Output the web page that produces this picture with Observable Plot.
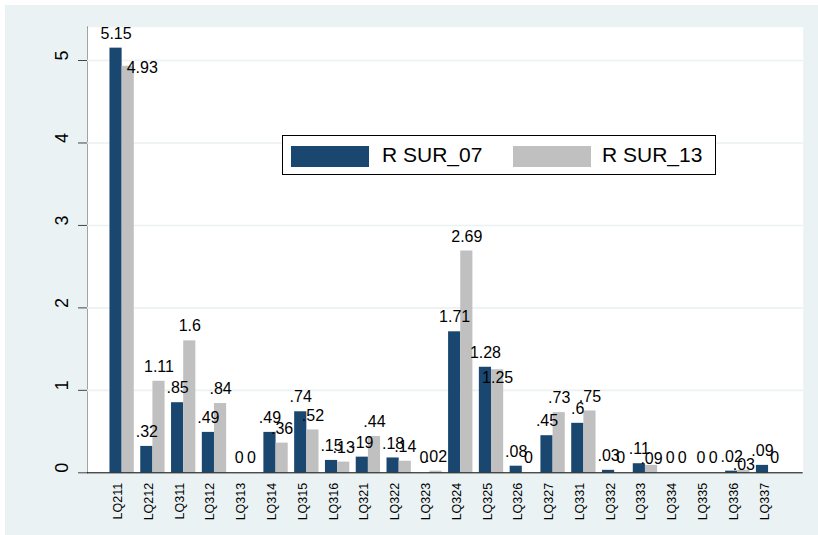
<!DOCTYPE html>
<html>
<head>
<meta charset="utf-8">
<script src="https://cdn.jsdelivr.net/npm/d3@7"></script>
<script src="https://cdn.jsdelivr.net/npm/@observablehq/plot@0.6"></script>
<style>
  html, body { margin: 0; padding: 0; background: #ffffff; }
  #wrap { position: relative; width: 818px; height: 535px; font-family: "Liberation Sans", Arial, Helvetica, sans-serif; }
  #bg { position: absolute; left: 5px; top: 5px; right: 0; bottom: 0; background: #eaf2f3; }
  #chart { position: absolute; left: 0; top: 0; }
  #legend { position: absolute; left: 282px; top: 135px; width: 432px; height: 38px; border: 1px solid #000; background: #fff; }
  .sw { position: absolute; top: 10px; width: 78px; height: 21px; }
  .lt { position: absolute; top: 7px; font-size: 21px; line-height: 24px; color: #000; white-space: nowrap; }
</style>
</head>
<body>
<div id="wrap">
  <div id="bg"></div>
  <div id="chart"></div>
  <div id="legend"></div>
</div>
<script>
const categories = ["LQ211","LQ212","LQ311","LQ312","LQ313","LQ314","LQ315","LQ316","LQ321","LQ322","LQ323","LQ324","LQ325","LQ326","LQ327","LQ331","LQ332","LQ333","LQ334","LQ335","LQ336","LQ337"];
const sur07 = [5.15, 0.32, 0.85, 0.49, 0, 0.49, 0.74, 0.15, 0.19, 0.18, 0, 1.71, 1.28, 0.08, 0.45, 0.6, 0.03, 0.11, 0, 0, 0.02, 0.09];
const sur13 = [4.93, 1.11, 1.6, 0.84, 0, 0.36, 0.52, 0.13, 0.44, 0.14, 0.02, 2.69, 1.25, 0, 0.73, 0.75, 0, 0.09, 0, 0, 0.03, 0];
const seriesNames = ["R SUR_07", "R SUR_13"];
const seriesColors = ["#1a476f", "#c0c0c0"];
const yTicks = [0, 1, 2, 3, 4, 5];

const rows = categories.map((c, i) => ({cat: c, v07: sur07[i], v13: sur13[i]}));
const fmt = v => v === 0 ? "0" : String(v).replace(/^0\./, ".");

// label placement tweaks (pixel offsets) for labels that were moved in the original
const shifted13 = {LQ211: [14, 16], LQ325: [0, 23], LQ333: [0, 8], LQ336: [0, 9]};

const font = "Liberation Sans, Arial, Helvetica, sans-serif";
const half = 12.16;

const marks = [
  Plot.frame({fill: "#ffffff", stroke: null}),
  Plot.ruleY(yTicks.filter(d => d > 0), {y: d => d, stroke: "#eaf2f3", strokeWidth: 1.6}),
  Plot.barY(rows, {x: "cat", y: "v07", fill: seriesColors[0], insetRight: half}),
  Plot.barY(rows, {x: "cat", y: "v13", fill: seriesColors[1], insetLeft: half}),
  Plot.ruleY([0], {stroke: "#000", strokeWidth: 1}),
  Plot.text(yTicks, {y: d => d, text: d => String(d), frameAnchor: "left", dx: -25, rotate: -90, fontSize: 18, fill: "#000", fontFamily: font}),
  Plot.text(categories, {x: d => d, text: d => d, frameAnchor: "bottom", dy: 10, rotate: -90, textAnchor: "end", fontSize: 12.5, fill: "#000", fontFamily: font}),
  Plot.text(rows, {x: "cat", y: "v07", text: d => fmt(d.v07), dx: -half / 2, dy: -14.5, fontSize: 16, fill: "#000", fontFamily: font}),
  Plot.text(rows.filter(d => !shifted13[d.cat]), {x: "cat", y: "v13", text: d => fmt(d.v13), dx: half / 2, dy: -14.5, fontSize: 16, fill: "#000", fontFamily: font})
];
for (const [cat, [ox, oy]] of Object.entries(shifted13)) {
  marks.push(Plot.text(rows.filter(d => d.cat === cat), {x: "cat", y: "v13", text: d => fmt(d.v13), dx: half / 2 + ox, dy: -14.5 + oy, fontSize: 16, fill: "#000", fontFamily: font}));
}

const chart = Plot.plot({
  width: 818,
  height: 535,
  marginLeft: 87,
  marginRight: 15.3,
  marginTop: 26.7,
  marginBottom: 62.7,
  style: {background: "transparent", fontFamily: font, color: "#444"},
  x: {type: "band", domain: categories, paddingInner: 0.21, paddingOuter: 0.73, round: false, axis: null},
  y: {domain: [0, 5.404], axis: "left", ticks: yTicks, tickSize: 9, tickFormat: () => "", label: null, line: true},
  marks
});
document.getElementById("chart").appendChild(chart);

const legend = document.getElementById("legend");
const legendPos = [[8, 99], [230, 319]];
seriesNames.forEach((name, i) => {
  const sw = document.createElement("div");
  sw.className = "sw";
  sw.style.left = legendPos[i][0] + "px";
  sw.style.background = seriesColors[i];
  legend.appendChild(sw);
  const t = document.createElement("div");
  t.className = "lt";
  t.style.left = legendPos[i][1] + "px";
  t.textContent = name;
  legend.appendChild(t);
});
</script>
</body>
</html>
